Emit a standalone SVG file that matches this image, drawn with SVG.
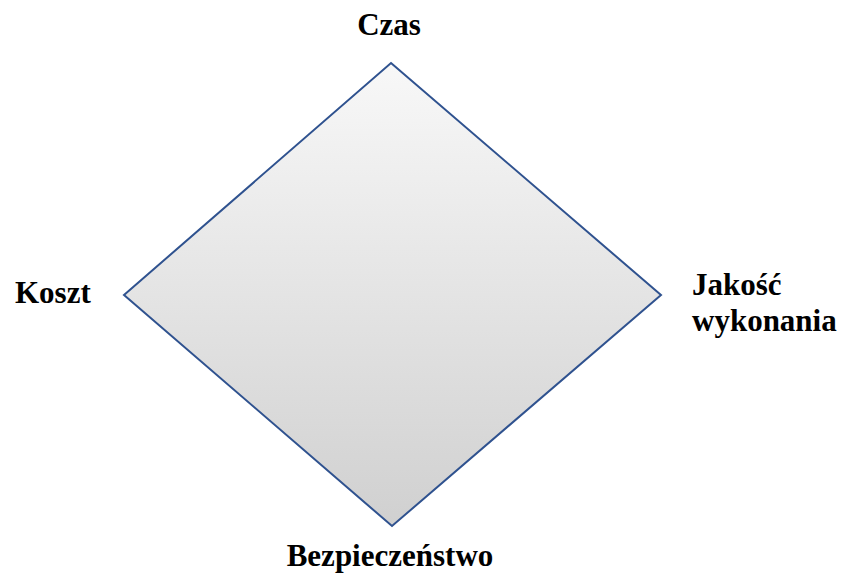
<svg xmlns="http://www.w3.org/2000/svg" width="842" height="574" viewBox="0 0 842 574">
<style>
.lbl{font-family:'Liberation Serif','Times New Roman',serif;font-weight:bold;font-size:31px;fill:#000}
.shape{fill:url(#fillGrad);stroke:#2f528f;stroke-width:2}
</style>
<defs>
<linearGradient id="fillGrad" x1="0" y1="0" x2="0" y2="1">
<stop offset="0" stop-color="#f8f8f8"/>
<stop offset="1" stop-color="#d0d0d0"/>
</linearGradient>
</defs>
<g id="diamond">
<polygon class="shape" points="391,63 661,295 392,526 124,295"/>
</g>
<g id="label-czas"><text class="lbl" x="389" y="35" text-anchor="middle">Czas</text></g>
<g id="label-koszt"><text class="lbl" x="15" y="303">Koszt</text></g>
<g id="label-jakosc"><text class="lbl" x="692" y="295">Jakość</text><text class="lbl" x="692" y="331">wykonania</text></g>
<g id="label-bezpieczenstwo"><text class="lbl" x="390" y="566" text-anchor="middle">Bezpieczeństwo</text></g>
</svg>
